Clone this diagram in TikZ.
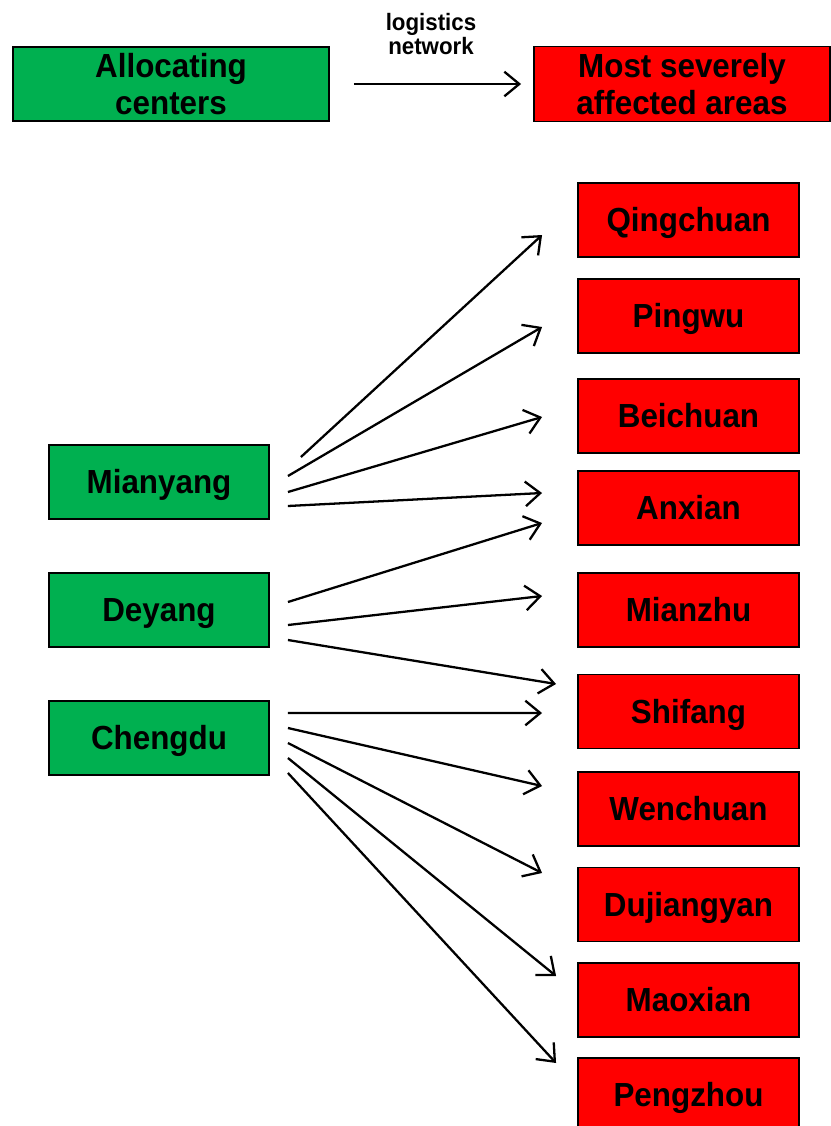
\documentclass[tikz,border=0pt]{standalone}
\usepackage{fontspec}
\setmainfont{Liberation Sans}[FakeStretch=0.94]
\usetikzlibrary{arrows.meta}

\definecolor{hubgreen}{RGB}{0,176,80}
\definecolor{areared}{RGB}{255,0,0}

\begin{document}
\begin{tikzpicture}[x=0.02cm, y=-0.02cm, >={Straight Barb[length=8.5pt,width=14pt]},
  every path/.style={line width=1.3pt},
  box/.style={draw=black, line width=1.1pt, inner sep=0pt, align=center,
    font=\fontsize{19}{21}\selectfont\bfseries},
  single/.style={box, text height=13.6pt, text depth=0pt},
  hub/.style={single, fill=hubgreen, minimum width=4.4cm, minimum height=1.48cm},
  area/.style={single, fill=areared, minimum width=4.42cm, minimum height=1.48cm}]
  \useasboundingbox (0,0) rectangle (831,1126);
  % legend
  \node[box, fill=hubgreen, minimum width=6.32cm, minimum height=1.48cm] (alloc) at (171,84) {Allocating\\centers};
  \node[box, fill=areared, minimum width=5.92cm, minimum height=1.5cm] (areas) at (682,84) {Most severely\\affected areas};
  \node[align=center, inner sep=0pt, font=\fontsize{13.5}{14.2}\selectfont\bfseries] (lognet) at (431,34) {logistics\\network};
  \draw[->] ([shift={(24,0)}]alloc.east) -- ([shift={(-12,0)}]areas.west);
  % allocating centers
  \node[hub] (Mianyang) at (159,482) {Mianyang};
  \node[hub] (Deyang)   at (159,610) {Deyang};
  \node[hub] (Chengdu)  at (159,738) {Chengdu};
  % affected areas
  \node[area] (Qingchuan)  at (688.5,220)   {Qingchuan};
  \node[area] (Pingwu)     at (688.5,316)   {Pingwu};
  \node[area] (Beichuan)   at (688.5,416)   {Beichuan};
  \node[area] (Anxian)     at (688.5,508)   {Anxian};
  \node[area] (Mianzhu)    at (688.5,610)   {Mianzhu};
  \node[area] (Shifang)    at (688.5,711.5) {Shifang};
  \node[area] (Wenchuan)   at (688.5,809)   {Wenchuan};
  \node[area] (Dujiangyan) at (688.5,904.5) {Dujiangyan};
  \node[area] (Maoxian)    at (688.5,1000)  {Maoxian};
  \node[area] (Pengzhou)   at (688.5,1095)  {Pengzhou};
  % Mianyang
  \draw[->] ([shift={(31,-25)}]Mianyang.east) -- ([shift={(-35,15)}]Qingchuan.west);
  \draw[->] ([shift={(18,-6)}]Mianyang.east)  -- ([shift={(-35,11)}]Pingwu.west);
  \draw[->] ([shift={(18,10)}]Mianyang.east)  -- ([shift={(-35,1)}]Beichuan.west);
  \draw[->] ([shift={(18,24)}]Mianyang.east)  -- ([shift={(-35,-15)}]Anxian.west);
  % Deyang
  \draw[->] ([shift={(18,-8)}]Deyang.east) -- ([shift={(-35,15)}]Anxian.west);
  \draw[->] ([shift={(18,15)}]Deyang.east) -- ([shift={(-35,-14)}]Mianzhu.west);
  \draw[->] ([shift={(18,30)}]Deyang.east) -- ([shift={(-21,-27.5)}]Shifang.west);
  % Chengdu
  \draw[->] ([shift={(18,-25)}]Chengdu.east) -- ([shift={(-35,1.5)}]Shifang.west);
  \draw[->] ([shift={(18,-10)}]Chengdu.east) -- ([shift={(-35,-23)}]Wenchuan.west);
  \draw[->] ([shift={(18,5)}]Chengdu.east)   -- ([shift={(-35,-31.5)}]Dujiangyan.west);
  \draw[->] ([shift={(18,20)}]Chengdu.east)  -- ([shift={(-21,-24)}]Maoxian.west);
  \draw[->] ([shift={(18,35)}]Chengdu.east)  -- ([shift={(-21,-32)}]Pengzhou.west);
\end{tikzpicture}
\end{document}
